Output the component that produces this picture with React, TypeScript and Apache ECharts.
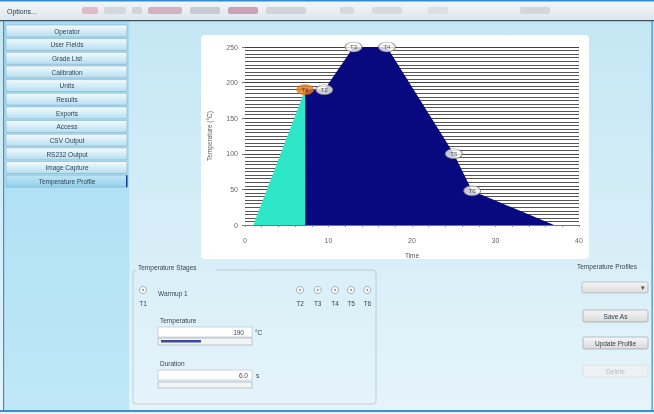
import React, { useEffect, useRef } from "react";
import * as echarts from "echarts";

// ---- chart data ----
const warmupTime = [1, 7.2, 7.2];
const warmupTemp = [0, 190, 0];
const profileTime = [7.2, 7.2, 9.5, 13, 17, 25, 27.2, 37];
const profileTemp = [0, 190, 190, 250, 250, 100, 48, 0];
const stageNames = ["T1", "T2", "T3", "T4", "T5", "T6"];
const stageTime = [7.2, 9.5, 13, 17, 25, 27.2];
const stageTemp = [190, 190, 250, 250, 100, 48];
const selectedStage = 0;

const xMin = 0;
const xMax = 40;
const xInterval = 10;
const yMin = 0;
const yMax = 250;
const yInterval = 50;

// ---- UI texts ----
const menuItems = [
  "Operator",
  "User Fields",
  "Grade List",
  "Calibration",
  "Units",
  "Results",
  "Exports",
  "Access",
  "CSV Output",
  "RS232 Output",
  "Image Capture",
  "Temperature Profile",
];
const stageTitle = "Temperature Stages";
const stageLabel = "Warmup 1";
const temperatureValue = "190";
const durationValue = "6.0";
const profileButtons = ["Save As", "Update Profile", "Delete"];

const FONT = "'Liberation Sans', Arial, sans-serif";

function txt(x: number, y: number, text: string, o: any = {}) {
  return {
    type: "text",
    x,
    y,
    z: o.z ?? -5,
    silent: true,
    style: {
      text,
      fill: o.fill ?? "#3a4652",
      fontSize: o.size ?? 7,
      fontFamily: FONT,
      align: o.align ?? "left",
      verticalAlign: "middle",
      textAlign: o.align ?? "left",
      textVerticalAlign: "middle",
    },
  };
}

function rect(x: number, y: number, w: number, h: number, fill: any, o: any = {}) {
  return {
    type: "rect",
    z: o.z ?? -10,
    silent: true,
    shape: { x, y, width: w, height: h, r: o.r ?? 0 },
    style: { fill, stroke: o.stroke ?? null, lineWidth: o.lw ?? 1 },
  };
}

function vgrad(c0: string, c1: string) {
  return new echarts.graphic.LinearGradient(0, 0, 0, 1, [
    { offset: 0, color: c0 },
    { offset: 1, color: c1 },
  ]);
}

function buildGraphic() {
  const g: any[] = [];
  // whole background
  g.push(rect(0, 0, 654, 414, vgrad("#c2e6f4", "#e6f4fa"), { z: -30 }));
  // top bar
  g.push(rect(0, 0, 654, 20, vgrad("#f4f7f9", "#dde7ec"), { z: -20 }));
  g.push(rect(0, 0, 654, 1.5, "#2f8bd4", { z: -19 }));
  g.push(rect(0, 20, 654, 1.2, "#3f5060", { z: -19 }));
  g.push(txt(7, 11, "Options...", { size: 7, fill: "#2d3a48" }));
  // blurred toolbar blobs
  const blobs: [number, number, string][] = [
    [82, 16, "#e2b4c4"],
    [104, 22, "#cfd5de"],
    [132, 10, "#ccd2da"],
    [148, 34, "#d2a8bc"],
    [190, 30, "#c0c6d4"],
    [228, 30, "#c898b2"],
    [266, 40, "#cdd2da"],
    [340, 14, "#d2d6de"],
    [372, 30, "#d4d8e0"],
    [428, 20, "#dadee4"],
    [520, 30, "#d0d4da"],
  ];
  blobs.forEach(([x, w, c]) =>
    g.push({ ...rect(x, 7, w, 7, c, { z: -18, r: 2 }), style: { fill: c, opacity: 0.9 } })
  );
  // borders
  g.push(rect(3, 21, 1.2, 390, "#3a8fd0", { z: -12 }));
  g.push(rect(651.5, 21, 1.2, 390, "#3a8fd0", { z: -12 }));
  g.push(rect(0, 410, 654, 2, "#3a8fd0", { z: -12 }));
  // sidebar
  g.push(rect(4.2, 21.5, 125, 388.5, vgrad("#a6dcf4", "#bfe7f7"), { z: -25 }));
  const btnTop = 25;
  const btnStep = 13.65;
  menuItems.forEach((name, i) => {
    const y = btnTop + i * btnStep;
    const sel = i === menuItems.length - 1;
    g.push(
      rect(6, y, 121, 12, sel ? vgrad("#bfe6f4", "#92d0ea") : vgrad("#f4fbfe", "#b4def0"), {
        z: -15,
        stroke: "#86aec4",
        lw: 0.6,
      })
    );
    if (sel) g.push(rect(126, y, 1.5, 12, "#1f3f8a", { z: -14 }));
    g.push(txt(67, y + 6.3, name, { align: "center", size: 6.5, fill: "#33445a" }));
  });
  // chart panel
  g.push(rect(201, 35, 388, 224, "#ffffff", { z: -20, r: 4 }));
  // temperature stages group box
  g.push(rect(133, 270, 243, 134, null, { z: -15, stroke: "#b4c6d0", lw: 0.8, r: 3 }));
  g.push(rect(136, 263, 80, 8, vgrad("#d8eef8", "#daeff8"), { z: -14 }));
  g.push(txt(138, 267, stageTitle, { size: 6.5 }));
  // radios
  const radioX = [143, 300, 317.7, 335, 351, 367.3];
  radioX.forEach((x, i) => {
    g.push({
      type: "circle",
      z: -12,
      silent: true,
      shape: { cx: x, cy: 290, r: 3.6 },
      style: { fill: "#f4f8fa", stroke: "#8a98a2", lineWidth: 0.7 },
    });
    g.push({
      type: "circle",
      z: -11,
      silent: true,
      shape: { cx: x, cy: 290, r: 1 },
      style: { fill: "#8a96a0" },
    });
    g.push(txt(x, 303, stageNames[i], { align: "center", size: 6.5 }));
  });
  g.push(txt(158, 293, stageLabel, { size: 6.5 }));
  // temperature field
  g.push(txt(160, 320, "Temperature", { size: 6.5 }));
  g.push(rect(158, 327, 94, 10, "#ffffff", { z: -12, stroke: "#b0bcc4", lw: 0.6 }));
  g.push(txt(244, 332, temperatureValue, { align: "right", size: 6.5 }));
  g.push(txt(255, 332, "°C", { size: 6.5 }));
  g.push(rect(158, 338, 94, 7, "#f2f4f6", { z: -12, stroke: "#9aa6ae", lw: 0.6 }));
  g.push(rect(161, 340, 40, 2.6, "#3b4aa0", { z: -11 }));
  // duration field
  g.push(txt(160, 363, "Duration", { size: 6.5 }));
  g.push(rect(158, 370, 94, 10, "#ffffff", { z: -12, stroke: "#b0bcc4", lw: 0.6 }));
  g.push(txt(248, 375, durationValue, { align: "right", size: 6.5 }));
  g.push(txt(256, 375, "s", { size: 6.5 }));
  g.push(rect(158, 382, 94, 6, "#f2f4f6", { z: -12, stroke: "#9aa6ae", lw: 0.6 }));
  // right panel
  g.push(txt(577, 266, "Temperature Profiles", { size: 6.5 }));
  g.push(rect(582, 282, 66, 11, vgrad("#f4f4f4", "#dcdcdc"), { z: -12, stroke: "#a0a8ae", lw: 0.6, r: 1.5 }));
  g.push(txt(643, 287.5, "▾", { align: "center", size: 7, fill: "#404850" }));
  const btnY = [310, 337, 365];
  profileButtons.forEach((name, i) => {
    const dis = i === 2;
    g.push(
      rect(583, btnY[i], 65, 12, dis ? "#eef1f3" : vgrad("#f6f6f6", "#dadada"), {
        z: -12,
        stroke: dis ? "#d4dadd" : "#8f989e",
        lw: 0.6,
        r: 1.5,
      })
    );
    g.push(
      txt(615.5, btnY[i] + 6.2, name, { align: "center", size: 6.5, fill: dis ? "#b4bcc2" : "#34404c" })
    );
  });
  return g;
}

const ELLIPSE =
  "path://M1,0 C1.552,0 2,0.448 2,1 C2,1.552 1.552,2 1,2 C0.448,2 0,1.552 0,1 C0,0.448 0.448,0 1,0 Z";

export default function App() {
  const ref = useRef<HTMLDivElement>(null);
  useEffect(() => {
    const chart = echarts.init(ref.current!, null, { renderer: "svg" });
    const option: any = {
      animation: false,
      graphic: { elements: buildGraphic() },
      grid: { left: 245, top: 47, width: 334, height: 178, containLabel: false },
      xAxis: {
        type: "value",
        min: xMin,
        max: xMax,
        interval: xInterval,
        name: "Time",
        nameLocation: "middle",
        nameGap: 27,
        nameTextStyle: { fontSize: 6.5, color: "#555", fontFamily: FONT },
        axisLine: { show: true, lineStyle: { color: "#9a9a9a", width: 0.6 } },
        axisTick: { show: true, length: 2, lineStyle: { color: "#888" } },
        minorTick: { show: true, splitNumber: 5, length: 2, lineStyle: { color: "#888" } },
        axisLabel: { fontSize: 7, color: "#666", margin: 12, fontFamily: FONT },
        splitLine: { show: false },
      },
      yAxis: {
        type: "value",
        min: yMin,
        max: yMax,
        interval: yInterval,
        name: "Temperature (°C)",
        nameLocation: "middle",
        nameGap: 32,
        nameTextStyle: { fontSize: 6.5, color: "#555", fontFamily: FONT },
        axisLine: { show: false },
        axisTick: { show: true, length: 3, lineStyle: { color: "#777" } },
        axisLabel: { fontSize: 7, color: "#666", margin: 7, fontFamily: FONT },
        splitLine: { show: true, lineStyle: { color: "#404040", width: 1.2 } },
        minorTick: { show: false, splitNumber: 10 },
        minorSplitLine: { show: true, lineStyle: { color: "#555555", width: 1.15 } },
      },
      series: [
        {
          type: "line",
          data: warmupTime.map((t, i) => [t, warmupTemp[i]]),
          showSymbol: false,
          symbol: "none",
          lineStyle: { width: 0 },
          areaStyle: { color: "#2ee6c8", opacity: 1 },
          z: 2,
        },
        {
          type: "line",
          data: profileTime.map((t, i) => [t, profileTemp[i]]),
          showSymbol: false,
          symbol: "none",
          lineStyle: { width: 0 },
          areaStyle: { color: "#08087f", opacity: 1 },
          z: 3,
        },
        {
          type: "scatter",
          symbol: ELLIPSE,
          symbolSize: [17, 10],
          z: 5,
          data: stageNames.map((n, i) => ({
            name: n,
            value: [stageTime[i], stageTemp[i]],
            itemStyle:
              i === selectedStage
                ? { color: "#f07a18", borderColor: "#c86010", borderWidth: 0.6 }
                : { color: "#fbfbf4", borderColor: "#6a6a6a", borderWidth: 0.8 },
          })),
          label: {
            show: true,
            position: "inside",
            formatter: "{b}",
            fontSize: 6,
            color: "#333",
            fontFamily: FONT,
          },
        },
      ],
    };
    chart.setOption(option);
    return () => chart.dispose();
  }, []);
  return (
    <div
      ref={ref}
      style={{ position: "fixed", left: 0, top: 0, width: 654, height: 414 }}
    />
  );
}
